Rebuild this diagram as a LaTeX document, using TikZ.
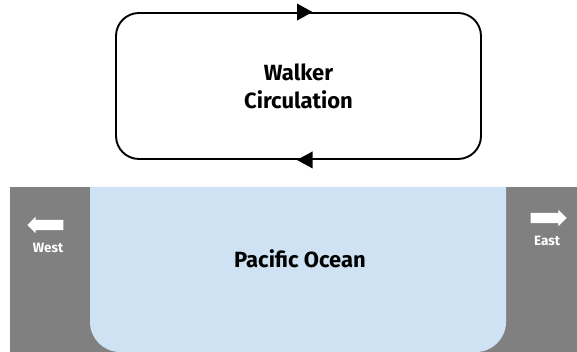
\documentclass[tikz,border=0pt]{standalone}
\usepackage{fontspec}
\setmainfont{Fira Sans}
\usepackage{tikz}
\usetikzlibrary{
arrows.meta,
calc,
shapes.arrows,
}
\definecolor{landgray}{HTML}{808080}
\definecolor{oceanblue}{HTML}{CFE2F3}

\begin{document}
\begin{tikzpicture}[x=1pt, y=1pt,
	label/.style={font=\bfseries\fontsize{22}{28}\selectfont, align=center},
	side/.style={font=\bfseries\fontsize{13.5}{14}\selectfont, text=white},
	dirarrow/.style={single arrow, fill=white, draw=none, minimum height=36pt, minimum width=16pt, single arrow head extend=3pt, inner sep=5pt, text width=0pt, text height=0pt, text depth=0pt}]
			\useasboundingbox (0,0) rectangle (577,352);

			\coordinate(A) at (10,0);
			\coordinate(B) at (577,165);
			\coordinate(C) at (90,165);
			\coordinate(D) at (506,165);

			% land on both sides, ocean in between
			\fill[landgray] (A) rectangle (B);
			\fill[oceanblue] (C) -- (90,30) arc[start angle=180, end angle=270, radius=30]
				-- (476,0) arc[start angle=270, end angle=360, radius=30] -- (D) -- cycle;

			% the loop
			\node[draw, line width=1.9pt, rounded corners=23pt, minimum width=365pt, minimum height=146pt, label] (loop) at (298.5,266) {Walker\\Circulation};
			\fill ($(loop.north)+(-1.5,8.5)$) -- ($(loop.north)+(14,0)$) -- ($(loop.north)+(-1.5,-8.5)$) -- cycle;
			\fill ($(loop.south)+(14,8.5)$) -- ($(loop.south)+(-1.5,0)$) -- ($(loop.south)+(14,-8.5)$) -- cycle;

			\node[label] (ocean) at (300,93) {Pacific Ocean};

			\node[dirarrow, shape border rotate=180] (westarrow) at (48,127) {};
			\node[side] (west) at (48,104) {West};
			\node[dirarrow] (eastarrow) at (546,134) {};
			\node[side] (east) at (547,111) {East};
		\end{tikzpicture}
\end{document}
